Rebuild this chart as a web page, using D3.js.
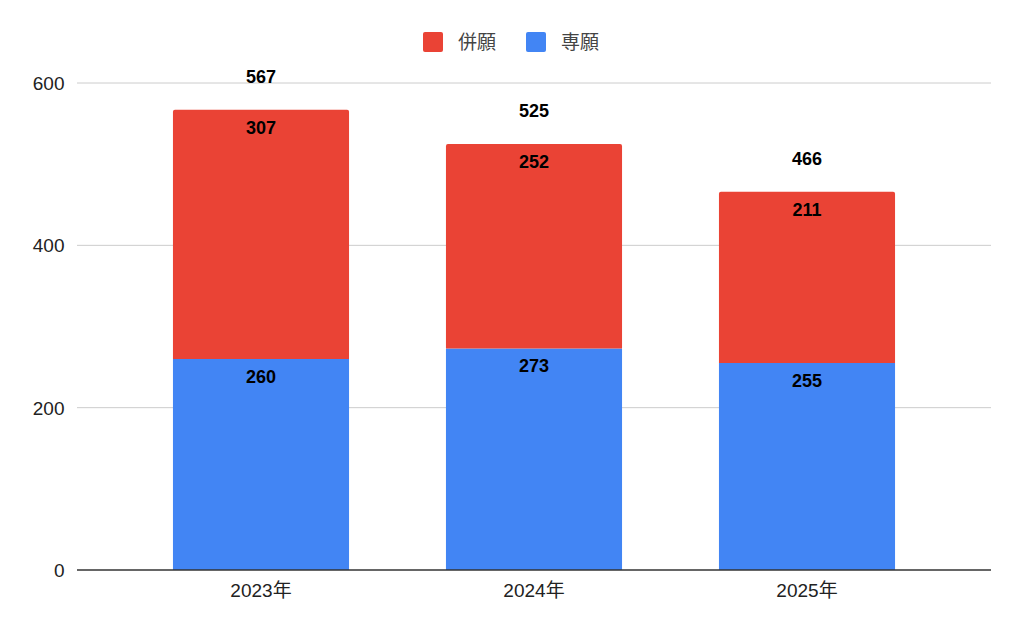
<!DOCTYPE html>
<html>
<head>
<meta charset="utf-8">
<script src="https://cdn.jsdelivr.net/npm/d3@7"></script>
<style>
body { margin: 0; background: #fff; }
text { font-family: "Liberation Sans", Arial, "Noto Sans CJK JP", sans-serif; }
</style>
</head>
<body>
<svg></svg>
<script>
// data
const years = ["2023年", "2024年", "2025年"];
const senganValues = [260, 273, 255];   // 専願
const heiganValues = [307, 252, 211];   // 併願
const seriesNames = ["併願", "専願"];
const yTicks = [0, 200, 400, 600];

const WIDTH = 1024, HEIGHT = 633;
const PLOT = { left: 77, right: 991, top: 83, bottom: 570 };

const svg = d3.select('svg')
  .attr('width', WIDTH)
  .attr('height', HEIGHT);

const rows = years.map((y, i) => ({ year: y, sengan: senganValues[i], heigan: heiganValues[i] }));
const stack = d3.stack().keys(['sengan', 'heigan'])(rows);

//scales
const xScale = d3.scaleBand()
  .domain(years)
  .range([124.5, 943.5])
  .paddingInner(0.355)
  .paddingOuter(0.1775);
const yScale = d3.scaleLinear().domain([0, 600]).range([PLOT.bottom, PLOT.top]);
const color = { sengan: '#4285f4', heigan: '#ea4335' };

//grid
svg.append('g')
  .selectAll('line')
  .data(yTicks.filter(d => d > 0))
  .enter()
  .append('line')
  .attr('x1', PLOT.left)
  .attr('x2', PLOT.right)
  .attr('y1', d => yScale(d))
  .attr('y2', d => yScale(d))
  .attr('stroke', '#cccccc')
  .attr('stroke-width', 1);

//y labels
svg.append('g')
  .selectAll('text')
  .data(yTicks)
  .enter()
  .append('text')
  .attr('x', 64.5)
  .attr('y', d => yScale(d))
  .attr('dy', '0.36em')
  .attr('text-anchor', 'end')
  .attr('font-size', 19)
  .attr('fill', '#222')
  .text(d => d);

//bars
stack.forEach(layer => {
  svg.append('g')
    .selectAll('path')
    .data(layer)
    .enter()
    .append('path')
    .attr('fill', color[layer.key])
    .attr('d', d => {
      const x = xScale(d.data.year), w = xScale.bandwidth();
      const y0 = yScale(d[0]), y1 = yScale(d[1]);
      const r = layer.key === 'heigan' ? 2 : 0;
      return `M${x},${y0}V${y1 + r}Q${x},${y1} ${x + r},${y1}H${x + w - r}Q${x + w},${y1} ${x + w},${y1 + r}V${y0}Z`;
    });

  //segment labels
  svg.append('g')
    .selectAll('text')
    .data(layer)
    .enter()
    .append('text')
    .attr('x', d => xScale(d.data.year) + xScale.bandwidth() / 2)
    .attr('y', d => yScale(d[1]) + 17.5)
    .attr('dy', '0.36em')
    .attr('text-anchor', 'middle')
    .attr('font-size', 18)
    .attr('font-weight', 'bold')
    .attr('fill', '#000')
    .text(d => d[1] - d[0]);
});

//totals
svg.append('g')
  .selectAll('text')
  .data(rows)
  .enter()
  .append('text')
  .attr('x', d => xScale(d.year) + xScale.bandwidth() / 2)
  .attr('y', d => yScale(d.sengan + d.heigan) - 33)
  .attr('dy', '0.36em')
  .attr('text-anchor', 'middle')
  .attr('font-size', 18)
  .attr('font-weight', 'bold')
  .attr('fill', '#000')
  .text(d => d.sengan + d.heigan);

//baseline
svg.append('line')
  .attr('x1', PLOT.left)
  .attr('x2', PLOT.right)
  .attr('y1', yScale(0))
  .attr('y2', yScale(0))
  .attr('stroke', '#333')
  .attr('stroke-width', 1.3);

//x labels
svg.append('g')
  .selectAll('text')
  .data(years)
  .enter()
  .append('text')
  .attr('x', d => xScale(d) + xScale.bandwidth() / 2)
  .attr('y', 590)
  .attr('dy', '0.36em')
  .attr('text-anchor', 'middle')
  .attr('font-size', 19)
  .attr('fill', '#222')
  .text(d => d);

//legend
const legendItems = [
  { name: seriesNames[0], color: color.heigan, x: 423 },
  { name: seriesNames[1], color: color.sengan, x: 526 }
];
const legend = svg.append('g')
  .selectAll('g')
  .data(legendItems)
  .enter()
  .append('g')
  .attr('transform', d => `translate(${d.x}, 32)`);
legend.append('rect')
  .attr('width', 20)
  .attr('height', 20)
  .attr('rx', 2)
  .attr('fill', d => d.color);
legend.append('text')
  .attr('x', 35)
  .attr('y', 10)
  .attr('dy', '0.36em')
  .attr('font-size', 19)
  .attr('fill', '#444')
  .text(d => d.name);
</script>
</body>
</html>
